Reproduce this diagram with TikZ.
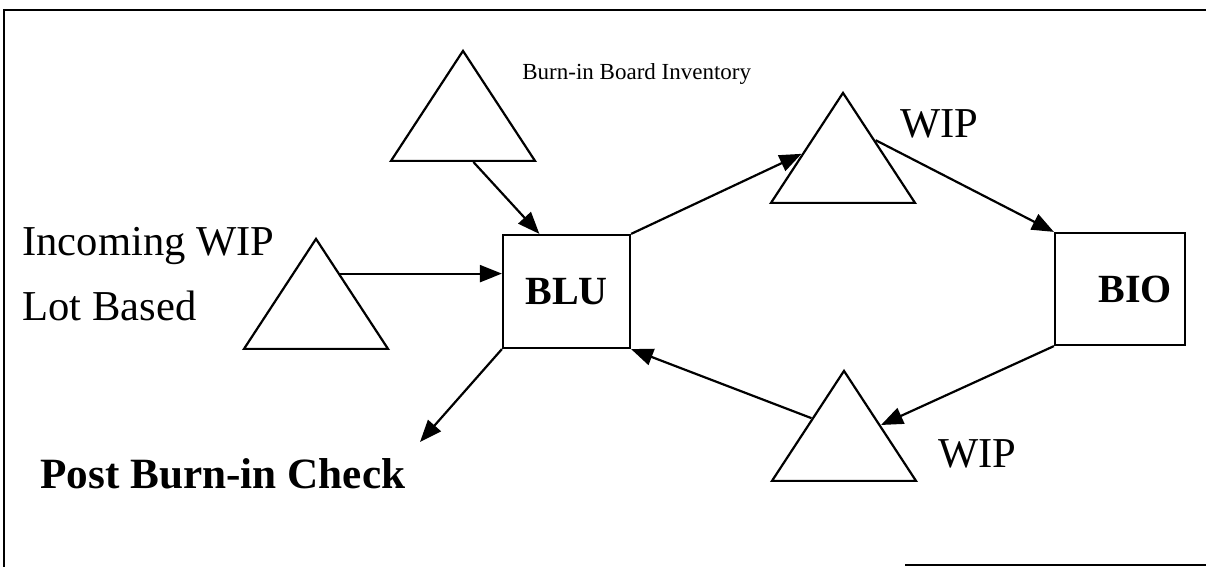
\documentclass[tikz,border=0pt]{standalone}
\usepackage{fontspec}
\setmainfont{Liberation Serif}
\usetikzlibrary{shapes.geometric, arrows.meta, positioning, calc}

\begin{document}
\begin{tikzpicture}[
        x=0.5pt, y=-0.5pt,
        stock/.style={isosceles triangle, isosceles triangle stretches, shape border rotate=90, draw, line width=1.1pt, minimum width=72pt, minimum height=55pt, inner sep=0pt, anchor=apex},
        box/.style={rectangle, draw, line width=1.1pt, font=\fontsize{20}{24}\selectfont\bfseries, inner sep=0pt},
        big/.style={font=\fontsize{21.3}{25}\selectfont, inner sep=0pt, anchor=base west},
        small/.style={font=\fontsize{11.5}{14}\selectfont, inner sep=0pt, anchor=base west},
        arrow/.style={line width=1.1pt, -{Triangle[length=11pt, width=8.5pt]}},
        frame/.style={line width=1.3pt}
        ]
        \useasboundingbox (0,0) rectangle (1206,567);

        % Frame
        \draw [frame] (4,567) -- (4,10) -- (1206,10);
        \draw [frame] (905,565) -- (1206,565);

        % Nodes
        \node (blu) [box, minimum width=63.5pt, minimum height=56.5pt] at (566.5,291.5) {BLU};
        \node (bio) [box, minimum width=65pt, minimum height=56pt, text width=52pt, align=right] at (1120,289) {BIO};

        \node (inv) [stock] at (463,48) {};
        \node (inc) [stock] at (316,236) {};
        \node (wipup) [stock] at (843,90) {};
        \node (wipdown) [stock] at (844,368) {};

        \node (invtext) [small] at (522,80) {Burn-in Board Inventory};
        \node (inctext) [big] at (22,256) {Incoming WIP};
        \node (lottext) [big] at (22,320) {Lot Based};
        \node (wipuptext) [big] at (900,138) {WIP};
        \node (wipdowntext) [big] at (938,467) {WIP};
        \node (post) [big, font=\fontsize{21.6}{25}\selectfont\bfseries] at (40,488) {Post Burn-in Check};
        \coordinate (postend) at (420,442);

        % Arrows
        \draw [arrow] ($(inv.left corner)!0.57!(inv.right corner)$) -- ($(blu.north west)!0.29!(blu.north east)$);
        \draw [arrow] ($(inc.apex)!0.33!(inc.right corner)$) coordinate (incout) -- (incout -| blu.west);
        \draw [arrow] (blu.north east) -- ($(wipup.apex)!0.56!(wipup.left corner)$);
        \draw [arrow] ($(wipup.apex)!0.44!(wipup.right corner)$) -- (bio.north west);
        \draw [arrow] (bio.south west) -- ($(wipdown.apex)!0.5!(wipdown.right corner)$);
        \draw [arrow] ($(wipdown.apex)!0.44!(wipdown.left corner)$) -- (blu.south east);
        \draw [arrow] (blu.south west) -- (postend);

    \end{tikzpicture}
\end{document}
